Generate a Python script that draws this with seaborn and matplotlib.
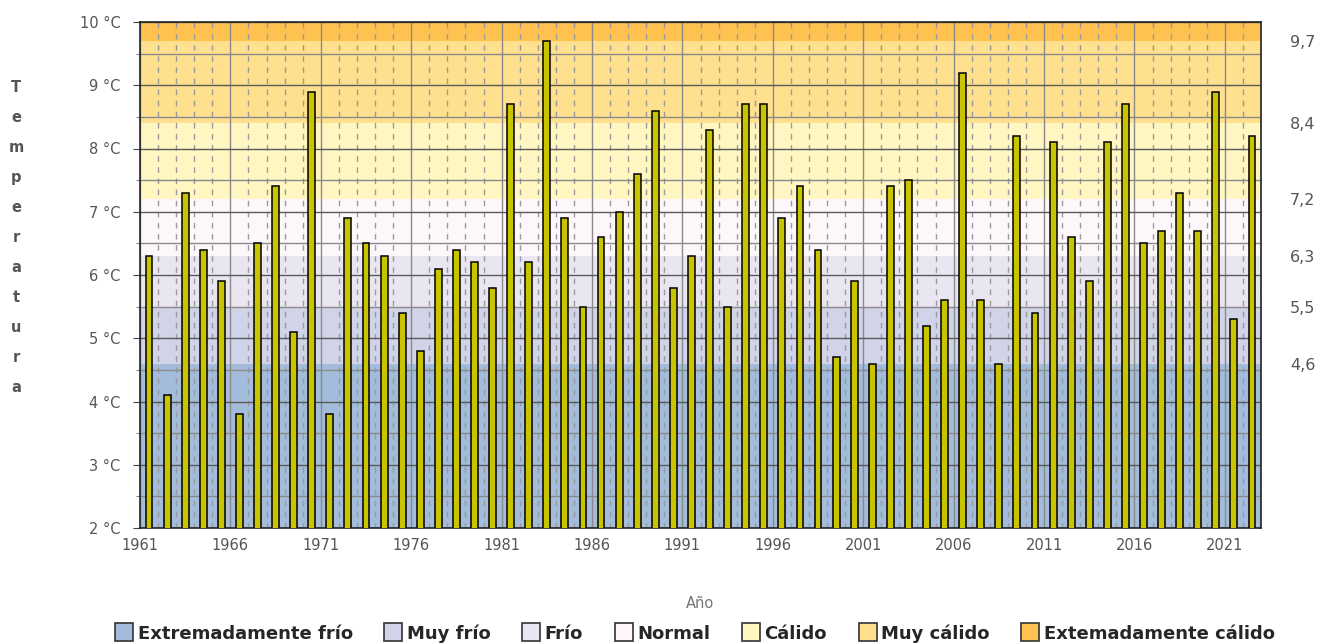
import numpy as np
import pandas as pd
import matplotlib
matplotlib.use("Agg")
import matplotlib.pyplot as plt
import matplotlib.patches as mpatches
from matplotlib.ticker import MultipleLocator, FixedLocator
import seaborn as sns

# Data
years = list(range(1961, 2023))
temps = [6.3, 4.1, 7.3, 6.4, 5.9, 3.8, 6.5, 7.4, 5.1, 8.9,
         3.8, 6.9, 6.5, 6.3, 5.4, 4.8, 6.1, 6.4, 6.2, 5.8,
         8.7, 6.2, 9.7, 6.9, 5.5, 6.6, 7.0, 7.6, 8.6, 5.8,
         6.3, 8.3, 5.5, 8.7, 8.7, 6.9, 7.4, 6.4, 4.7, 5.9,
         4.6, 7.4, 7.5, 5.2, 5.6, 9.2, 5.6, 4.6, 8.2, 5.4,
         8.1, 6.6, 5.9, 8.1, 8.7, 6.5, 6.7, 7.3, 6.7, 8.9,
         5.3, 8.2]
band_edges = [2.0, 4.6, 5.5, 6.3, 7.2, 8.4, 9.7, 10.0]
band_names = ["Extremadamente frío", "Muy frío", "Frío", "Normal",
              "Cálido", "Muy cálido", "Extemadamente cálido"]
band_colors = ["#a4bcdc", "#d1d3e8", "#e9e6f2", "#fdf7fb",
               "#fff6c2", "#ffe08e", "#ffc251"]
right_ticks = [9.7, 8.4, 7.2, 6.3, 5.5, 4.6]
right_labels = ["9,7", "8,4", "7,2", "6,3", "5,5", "4,6"]

df = pd.DataFrame({"pos": np.array(years) + 0.5, "temp": temps})

sns.set_style("white")
plt.rcParams["font.family"] = ["DejaVu Sans"]

fig = plt.figure(figsize=(13.3, 6.44), dpi=100)
ax = fig.add_axes([140 / 1330, 1 - 528 / 644, 1121 / 1330, 506 / 644])

# background bands
for i, name in enumerate(band_names):
    ax.axhspan(band_edges[i], band_edges[i + 1], color=band_colors[i], lw=0, zorder=0)

sns.barplot(data=df, x="pos", y="temp", native_scale=True, width=0.38,
            color="#c8c400", edgecolor="black", linewidth=1.1,
            errorbar=None, ax=ax, zorder=3)
for p in ax.containers[0]:
    p.set_facecolor("#c8c400")

ax.set_xlim(1961, 2023)
ax.set_ylim(2, 10)
ax.xaxis.set_major_locator(FixedLocator(list(range(1961, 2022, 5))))
ax.xaxis.set_minor_locator(MultipleLocator(1))
ax.yaxis.set_major_locator(MultipleLocator(1))
ax.yaxis.set_minor_locator(MultipleLocator(0.5))
ax.set_yticks(list(range(2, 11)))
ax.set_yticklabels([f"{v} °C" for v in range(2, 11)])

ax.yaxis.grid(True, which="major", color="#5a5a5a", lw=1.0, zorder=1)
ax.yaxis.grid(True, which="minor", color="#8a8a8a", lw=1.0, zorder=1)
ax.xaxis.grid(True, which="major", color="#8a8a8a", lw=1.0, zorder=1)
ax.xaxis.grid(True, which="minor", color="#9a9a9a", lw=1.0, ls=(0, (4, 4)), zorder=1)

ax.tick_params(axis="both", which="major", length=5, color="#444444",
               labelcolor="#555555", labelsize=10.5, direction="out")
ax.tick_params(axis="both", which="minor", length=3, color="#666666", direction="out")
ax.tick_params(axis="x", pad=2)
ax.tick_params(axis="y", pad=9)
for s in ax.spines.values():
    s.set_color("#222222")
    s.set_linewidth(1.2)
ax.set_xlabel("")
ax.set_ylabel("")

# right axis with thresholds
ax2 = ax.twinx()
ax2.set_ylim(2, 10)
ax2.set_yticks(right_ticks)
ax2.set_yticklabels(right_labels)
ax2.tick_params(axis="y", length=0, pad=21, labelcolor="#555555", labelsize=11.5)
for s in ax2.spines.values():
    s.set_visible(False)

# vertical stacked y label
for i, ch in enumerate("Temperatura"):
    fig.text(16 / 1330, 1 - (87 + i * 30.1) / 644, ch, ha="center", va="center",
             fontsize=10.5, fontweight="bold", color="#555555")

fig.text(700 / 1330, 1 - 603 / 644, "Año", ha="center", va="center",
         fontsize=10.5, color="#777777")

handles = [mpatches.Patch(facecolor=c, edgecolor="#333333", linewidth=1.2, label=n)
           for c, n in zip(band_colors, band_names)]
fig.legend(handles=handles, loc="center", bbox_to_anchor=(695 / 1330, 1 - 633 / 644),
           ncol=7, frameon=False, handlelength=1.0, handleheight=1.15,
           handletextpad=0.25, columnspacing=1.75,
           prop={"family": "DejaVu Sans", "weight": "bold", "size": 13})

fig.savefig("out.png", dpi=100)
